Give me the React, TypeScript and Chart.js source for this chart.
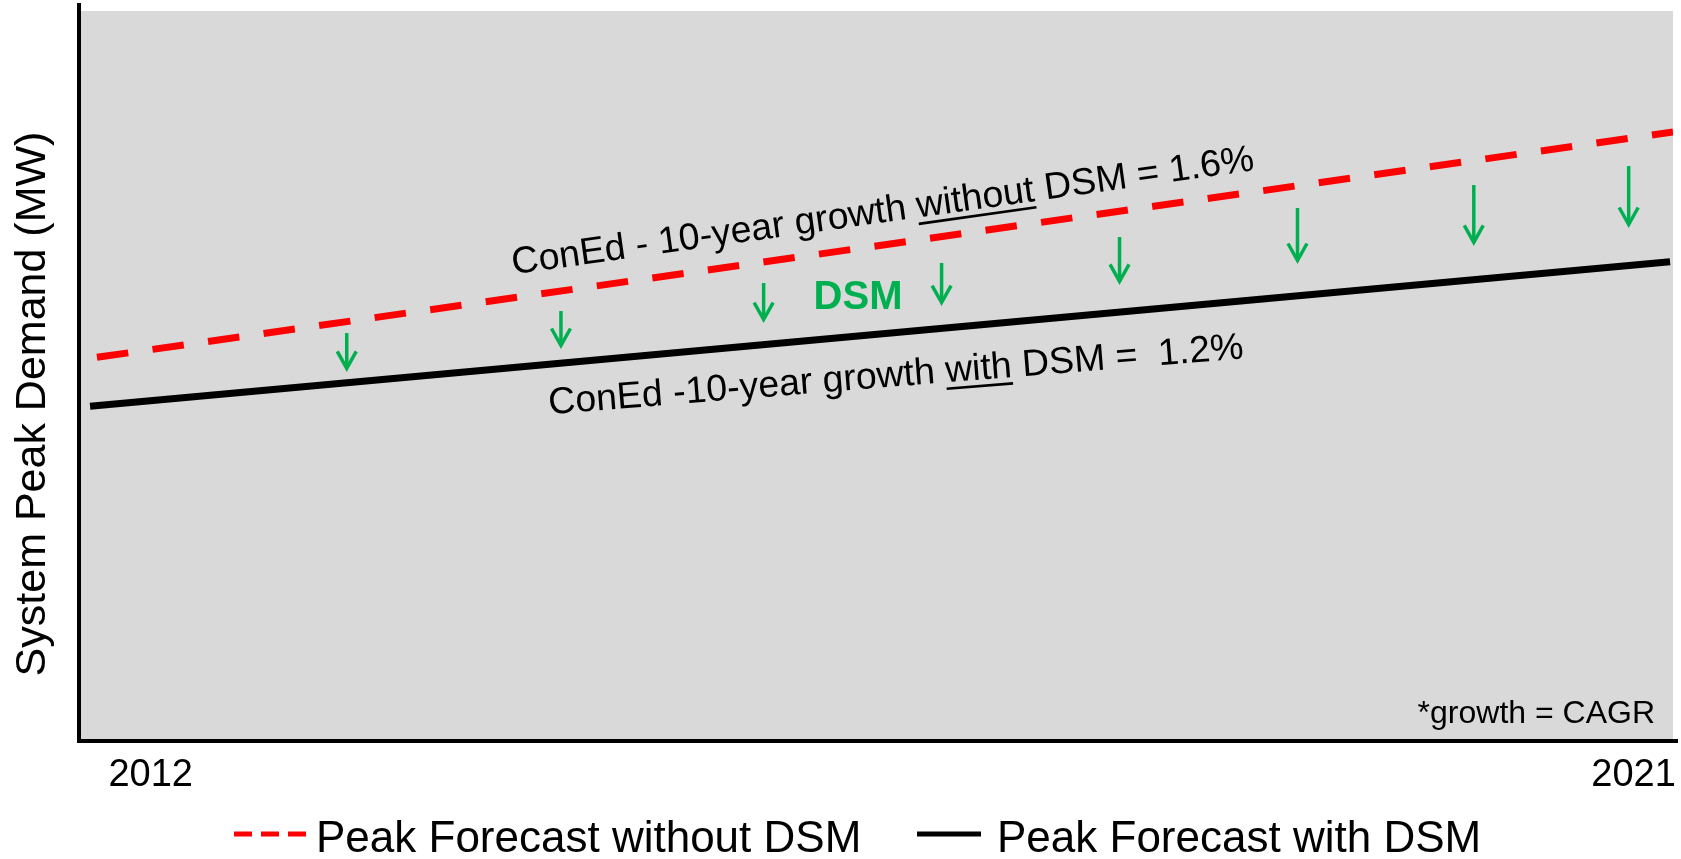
import React, { useEffect, useRef } from 'react';
import { Chart, registerables } from 'chart.js';

Chart.register(...registerables);

// ---------------- data ----------------
const withoutDsmYears = [2011.674, 2021.239];
const peakWithoutDsm = [52.13, 82.74];
const withDsmYears = [2011.632, 2021.221];
const peakWithDsm = [45.48, 65.12];
const seriesLabels = ['Peak Forecast without DSM', 'Peak Forecast with DSM'];
const tickYears = [2012, 2021];
const tickLabels = ['2012', '2021'];
const arrowYears = [2013.19, 2014.49, 2015.72, 2016.8, 2017.88, 2018.96, 2020.03, 2020.97];
const arrowFrom = [55.43, 58.42, 62.23, 64.95, 68.48, 72.42, 75.54, 78.12];
const arrowTo = [50.14, 53.26, 56.79, 59.1, 61.96, 64.81, 67.26, 69.7];
const yTitle = 'System Peak Demand (MW)';
const footnote = '*growth = CAGR';
const X_MIN = 2011.565;
const X_MAX = 2021.239;
const Y_MIN = 0;
const Y_MAX = 100;

// ---------------- styles ----------------
const FONT = 'Arial, "Liberation Sans", sans-serif';
const RED = '#FF0000';
const GREEN = '#00B050';
const GRAY = '#D9D9D9';

type Part = [string, boolean];
const notes: { parts: Part[]; x: number; y: number; angle: number; color: string; size: number; bold: boolean }[] = [
  {
    parts: [['ConEd - 10-year growth ', false], ['without', true], [' DSM = 1.6%', false]],
    x: 2016.444, y: 71.88, angle: -8, color: '#000', size: 37.5, bold: false,
  },
  {
    parts: [['ConEd -10-year growth ', false], ['with', true], [' DSM =  1.2%', false]],
    x: 2016.523, y: 49.59, angle: -4.6, color: '#000', size: 37.5, bold: false,
  },
  { parts: [['DSM', false]], x: 2016.293, y: 60.19, angle: 0, color: GREEN, size: 40, bold: true },
];

const legendStyle = [
  { x: 234, len: 77, gap: 5, dash: [18, 9], width: 5 },
  { x: 917, len: 64, gap: 16, dash: [] as number[], width: 5 },
];

const bgPlugin = {
  id: 'plotBg',
  beforeDraw(chart: any) {
    const { ctx, chartArea: a } = chart;
    ctx.save();
    ctx.fillStyle = GRAY;
    ctx.fillRect(a.left, a.top + 6, a.right - a.left, a.bottom - a.top - 6);
    ctx.restore();
  },
};

const annotationPlugin = {
  id: 'annotations',
  afterDatasetsDraw(chart: any) {
    const { ctx, scales, chartArea } = chart;
    const xs = scales.x;
    const ys = scales.y;
    ctx.save();
    // arrows
    ctx.strokeStyle = GREEN;
    ctx.lineWidth = 3.5;
    ctx.lineCap = 'butt';
    ctx.lineJoin = 'miter';
    arrowYears.forEach((yr, i) => {
      const px = xs.getPixelForValue(yr);
      const y1 = ys.getPixelForValue(arrowFrom[i]);
      const tip = ys.getPixelForValue(arrowTo[i]) - 3.5;
      ctx.beginPath();
      ctx.moveTo(px, y1);
      ctx.lineTo(px, tip - 1);
      ctx.stroke();
      ctx.beginPath();
      ctx.moveTo(px - 9.5, tip - 17);
      ctx.lineTo(px, tip);
      ctx.lineTo(px + 9.5, tip - 17);
      ctx.stroke();
    });
    // texts
    notes.forEach((n) => {
      const px = xs.getPixelForValue(n.x);
      const py = ys.getPixelForValue(n.y);
      ctx.save();
      ctx.translate(px, py);
      ctx.rotate((n.angle * Math.PI) / 180);
      ctx.font = `${n.bold ? 'bold ' : ''}${n.size}px ${FONT}`;
      ctx.fillStyle = n.color;
      ctx.strokeStyle = n.color;
      ctx.textAlign = 'left';
      ctx.textBaseline = 'middle';
      const widths = n.parts.map((p) => ctx.measureText(p[0]).width);
      const total = widths.reduce((s, w) => s + w, 0);
      let cx = -total / 2;
      n.parts.forEach((p, i) => {
        ctx.fillText(p[0], cx, 0);
        if (p[1]) {
          const uy = n.size * 0.3465 + n.size * 0.1;
          ctx.lineWidth = n.size * 0.07;
          ctx.beginPath();
          ctx.moveTo(cx, uy);
          ctx.lineTo(cx + widths[i], uy);
          ctx.stroke();
        }
        cx += widths[i];
      });
      ctx.restore();
    });
    // footnote
    ctx.font = `32px ${FONT}`;
    ctx.fillStyle = '#000';
    ctx.textAlign = 'right';
    ctx.textBaseline = 'alphabetic';
    ctx.fillText(footnote, chartArea.right - 18, chartArea.bottom - 18);
    ctx.restore();
  },
};

const outerPlugin = {
  id: 'outerText',
  afterDraw(chart: any) {
    const { ctx, chartArea } = chart;
    ctx.save();
    // y axis title
    ctx.translate(33, (chartArea.top + chartArea.bottom) / 2 + 31);
    ctx.rotate(-Math.PI / 2);
    ctx.font = `43px ${FONT}`;
    ctx.fillStyle = '#000';
    ctx.textAlign = 'center';
    ctx.textBaseline = 'middle';
    ctx.fillText(yTitle, 0, 0);
    ctx.restore();

    // legend
    ctx.save();
    const lineY = 834;
    const baseY = 852;
    chart.data.datasets.forEach((ds: any, i: number) => {
      const st = legendStyle[i];
      ctx.strokeStyle = ds.borderColor;
      ctx.lineWidth = st.width;
      ctx.lineCap = 'butt';
      ctx.setLineDash(st.dash);
      ctx.beginPath();
      ctx.moveTo(st.x, lineY);
      ctx.lineTo(st.x + st.len, lineY);
      ctx.stroke();
      ctx.setLineDash([]);
      ctx.font = `44px ${FONT}`;
      ctx.fillStyle = '#000';
      ctx.textAlign = 'left';
      ctx.textBaseline = 'alphabetic';
      ctx.fillText(ds.label, st.x + st.len + st.gap, baseY);
    });
    ctx.restore();
  },
};

export default function App() {
  const ref = useRef<HTMLCanvasElement>(null);
  useEffect(() => {
    if (!ref.current) return;
    Chart.defaults.font.family = FONT;
    const chart = new Chart(ref.current, {
      type: 'line',
      data: {
        datasets: [
          {
            label: seriesLabels[0],
            data: withoutDsmYears.map((x, i) => ({ x, y: peakWithoutDsm[i] })),
            borderColor: RED,
            borderWidth: 7,
            borderDash: [31.6, 24.5],
            borderCapStyle: 'butt',
            pointRadius: 0,
            fill: false,
            tension: 0,
          },
          {
            label: seriesLabels[1],
            data: withDsmYears.map((x, i) => ({ x, y: peakWithDsm[i] })),
            borderColor: '#000000',
            borderWidth: 7,
            borderCapStyle: 'butt',
            pointRadius: 0,
            fill: false,
            tension: 0,
          },
        ],
      },
      options: {
        animation: false,
        responsive: true,
        maintainAspectRatio: false,
        layout: { padding: { left: 79, top: 5, right: 8, bottom: 48.4 } },
        scales: {
          x: {
            type: 'linear',
            min: X_MIN,
            max: X_MAX,
            grid: { display: false, drawTicks: false, lineWidth: 10 },
            border: { display: true, color: '#000', width: 4 },
            afterBuildTicks: (s: any) => {
              s.ticks = tickYears.map((v) => ({ value: v }));
            },
            afterFit: (s: any) => {
              s.paddingLeft = 0;
              s.paddingRight = 0;
            },
            ticks: {
              color: '#000',
              font: { size: 38, family: FONT },
              padding: 12,
              maxRotation: 0,
              autoSkip: false,
              callback: (v: any) => tickLabels[tickYears.indexOf(Number(v))] ?? '',
            },
          },
          y: {
            min: Y_MIN,
            max: Y_MAX,
            grid: { display: false, drawTicks: false },
            border: { display: true, color: '#000', width: 4 },
            ticks: { display: false },
          },
        },
        plugins: {
          legend: { display: false },
          tooltip: { enabled: false },
        },
      } as any,
      plugins: [bgPlugin, annotationPlugin, outerPlugin],
    });
    return () => chart.destroy();
  }, []);
  return (
    <div style={{ position: 'fixed', left: 0, top: 0, width: '100vw', height: '100vh', background: '#fff' }}>
      <canvas ref={ref} />
    </div>
  );
}
